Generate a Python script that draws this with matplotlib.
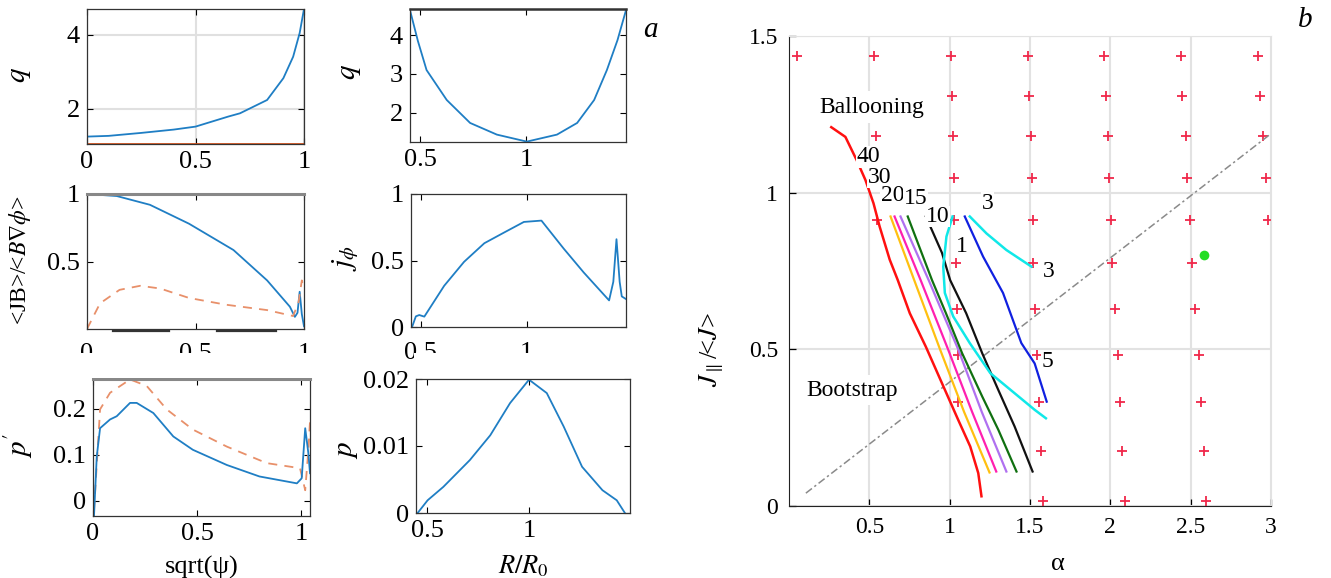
import matplotlib
matplotlib.use("Agg")
import matplotlib.pyplot as plt
from matplotlib.patches import Rectangle

plt.rcParams['font.family'] = 'serif'
plt.rcParams['font.serif'] = ['Liberation Serif', 'DejaVu Serif']
plt.rcParams['mathtext.fontset'] = 'stix'

W, H = 1331, 578
blue = '#1F7EC4'
orange = '#E8906A'

# q vs sqrt(psi)
s_q = [0, 0.1, 0.25, 0.4, 0.5, 0.65, 0.705, 0.83, 0.905, 0.95, 0.98, 1.0]
q_s = [1.25, 1.27, 1.35, 1.44, 1.52, 1.79, 1.88, 2.24, 2.83, 3.41, 4.05, 4.7]

# q vs R/R0
R_q = [0.453, 0.49, 0.531, 0.626, 0.736, 0.862, 1.003, 1.145, 1.24, 1.32, 1.38, 1.43, 1.47]
q_R = [4.64, 3.85, 3.10, 2.33, 1.74, 1.44, 1.26, 1.44, 1.74, 2.33, 3.10, 3.87, 4.64]

# <JB>/<B grad phi>, total (blue) and bootstrap (dashed)
s_jb = [0, 0.137, 0.29, 0.47, 0.675, 0.83, 0.935, 0.958, 0.97, 0.98, 0.99, 1.0]
jb = [1.0, 0.985, 0.92, 0.78, 0.585, 0.36, 0.165, 0.09, 0.12, 0.276, 0.11, 0.02]
s_bs = [0, 0.06, 0.15, 0.245, 0.337, 0.47, 0.64, 0.83, 0.95, 0.975, 0.99, 1.0]
bs = [0, 0.19, 0.29, 0.32, 0.30, 0.23, 0.18, 0.14, 0.096, 0.2, 0.36, 0.30]

# j_phi vs R/R0
R_j = [0.458, 0.476, 0.492, 0.516, 0.61, 0.704, 0.8, 0.893, 0.987, 1.07, 1.175,
       1.27, 1.39, 1.41, 1.425, 1.44, 1.45, 1.47]
j_R = [0, 0.08, 0.09, 0.078, 0.31, 0.49, 0.63, 0.71, 0.79, 0.80, 0.59,
       0.41, 0.2, 0.34, 0.66, 0.34, 0.23, 0.21]

# p' vs sqrt(psi)
s_dp = [0.005, 0.018, 0.034, 0.082, 0.114, 0.178, 0.21, 0.29, 0.386, 0.48, 0.643,
        0.80, 0.98, 1.003, 1.02, 1.035, 1.043]
dp = [-0.031, 0.096, 0.158, 0.177, 0.184, 0.213, 0.213, 0.191, 0.14, 0.111, 0.078,
      0.053, 0.038, 0.049, 0.158, 0.104, 0.06]
s_dp2 = [0.005, 0.034, 0.082, 0.178, 0.258, 0.354, 0.48, 0.643, 0.835, 0.995, 1.02, 1.035, 1.043]
dp2 = [-0.02, 0.199, 0.235, 0.264, 0.25, 0.199, 0.155, 0.118, 0.082, 0.071, 0.023, 0.11, 0.173]

# p vs R/R0
R_p = [0.454, 0.503, 0.58, 0.71, 0.81, 0.907, 1.0, 1.087, 1.17, 1.26, 1.36, 1.43, 1.47]
p_R = [0, 0.0019, 0.0039, 0.0079, 0.0116, 0.0164, 0.0199, 0.0179, 0.0129, 0.0069, 0.0034, 0.0019, 0]

# panel b: stability diagram
cross_a = [0.05, 0.531, 1.01, 1.486, 1.962, 2.44, 2.92,
           0.53, 1.015, 1.496, 1.972, 2.449, 2.93,
           0.539, 1.02, 1.504, 1.985, 2.469, 2.95,
           1.028, 1.511, 1.992, 2.48, 2.97,
           0.546, 1.028, 1.516, 2.005, 2.494, 2.98,
           1.04, 1.516, 2.01, 2.51,
           1.045, 1.529, 2.03, 2.53,
           1.05, 1.541, 2.05, 2.549,
           1.053, 1.554, 2.063, 2.564,
           1.566, 2.075, 2.58,
           1.579, 2.09, 2.594]
cross_j = [1.437] * 7 + [1.31] * 6 + [1.18] * 6 + [1.048] * 5 + [0.913] * 6 + \
          [0.776] * 4 + [0.628] * 4 + [0.482] * 4 + [0.331] * 4 + [0.174] * 3 + [0.017] * 3
green_pt = (2.586, 0.802)
boot_a = [0.105, 2.987]
boot_j = [0.041, 1.183]

red_a = [0.263, 0.351, 0.421, 0.476, 0.526, 0.564, 0.627, 0.677, 0.752, 0.852, 0.952, 1.053, 1.128, 1.178, 1.198]
red_j = [1.209, 1.178, 1.104, 1.04, 0.966, 0.892, 0.786, 0.721, 0.615, 0.508, 0.392, 0.275, 0.19, 0.105, 0.031]
yel_a = [0.632, 0.78, 0.94, 1.09, 1.248]
yel_j = [0.924, 0.72, 0.5, 0.3, 0.107]
mag_a = [0.657, 0.82, 0.99, 1.14, 1.29]
mag_j = [0.924, 0.72, 0.5, 0.3, 0.11]
vio_a = [0.694, 0.87, 1.053, 1.2, 1.353]
vio_j = [0.924, 0.72, 0.5, 0.3, 0.11]
grn_a = [0.739, 0.89, 0.977, 1.078, 1.203, 1.303, 1.416]
grn_j = [0.924, 0.721, 0.615, 0.487, 0.349, 0.243, 0.11]
blk_a = [0.852, 0.952, 1.003, 1.103, 1.203, 1.303, 1.404, 1.516]
blk_j = [0.924, 0.808, 0.721, 0.615, 0.487, 0.37, 0.254, 0.11]
cy1_a = [1.018, 0.98, 0.96, 0.97, 1.022, 1.125, 1.253, 1.404, 1.529, 1.599]
cy1_j = [0.924, 0.86, 0.764, 0.68, 0.605, 0.52, 0.424, 0.36, 0.307, 0.28]
blu_a = [1.094, 1.208, 1.332, 1.446, 1.529, 1.604]
blu_j = [0.924, 0.796, 0.68, 0.52, 0.455, 0.333]
cy3_a = [1.125, 1.229, 1.353, 1.509]
cy3_j = [0.924, 0.87, 0.817, 0.764]

curve_labels = ['40', '30', '20', '15', '10', '1', '3', '3', '5']
label_a = [0.42, 0.49, 0.57, 0.715, 0.85, 1.04, 1.2, 1.58, 1.57]
label_j = [1.114, 1.049, 0.99, 0.98, 0.924, 0.828, 0.966, 0.748, 0.461]

fig = plt.figure(figsize=(W / 100, H / 100), dpi=100)


def add_ax(l, t, r, b):
    return fig.add_axes([l / W, 1 - b / H, (r - l) / W, (b - t) / H])


def matlab(ax, size=19):
    ax.tick_params(direction='in', top=True, right=True, length=4, width=0.8,
                   labelsize=size, pad=5)
    for sp in ax.spines.values():
        sp.set_color('#333333')
        sp.set_linewidth(0.9)


ax1 = add_ax(87, 9, 304, 144)
ax1.plot(s_q, q_s, color=blue, lw=1.3)
ax1.axhline(1.05, color='#D95319', lw=2)
ax1.set_xlim(0, 1)
ax1.set_ylim(1.05, 4.7)
ax1.set_xticks([0, 0.5, 1])
ax1.set_xticklabels(['0', '0.5', '1'])
ax1.set_yticks([2, 4])
ax1.grid(True, color='#E0E0E0', lw=1.5)
matlab(ax1)

ax2 = add_ax(410, 9, 626, 142)
ax2.plot(R_q, q_R, color=blue, lw=1.3)
ax2.set_xlim(0.453, 1.47)
ax2.set_ylim(1.25, 4.67)
ax2.set_xticks([0.5, 1])
ax2.set_xticklabels(['0.5', '1'])
ax2.set_yticks([2, 3, 4])
matlab(ax2)
ax2.spines['top'].set_linewidth(1.8)

ax3 = add_ax(87, 194, 304, 329)
ax3.plot(s_jb, jb, color=blue, lw=1.3)
ax3.plot(s_bs, bs, color=orange, lw=1.3, ls=(0, (5, 4)))
ax3.set_xlim(0, 1)
ax3.set_ylim(0, 1)
ax3.set_xticks([0, 0.5, 1])
ax3.set_xticklabels(['0', '0.5', '1'])
ax3.set_yticks([0.5, 1])
ax3.set_yticklabels(['0.5', '1'])
matlab(ax3)
ax3.tick_params(axis='x', pad=10)
ax3.spines['top'].set_color('#888888')
ax3.spines['top'].set_linewidth(2.2)
for x0, x1 in [(0.12, 0.38), (0.60, 0.87)]:
    ax3.plot([x0, x1], [-0.012, -0.012], color='#333333', lw=1.6, clip_on=False)

ax4 = add_ax(411, 194, 626, 327)
ax4.plot(R_j, j_R, color=blue, lw=1.3)
ax4.set_xlim(0.453, 1.47)
ax4.set_ylim(0, 1)
ax4.set_xticks([0.5, 1])
ax4.set_xticklabels(['0.5', '1'])
ax4.set_yticks([0, 0.5, 1])
ax4.set_yticklabels(['0', '0.5', '1'])
matlab(ax4)
ax4.tick_params(axis='x', pad=11)

# white bands hiding the lower half of the middle-row x tick labels
for bx0, bx1 in [(0, 340), (414, 680)]:
    fig.patches.append(Rectangle((bx0 / W, 1 - 378 / H), (bx1 - bx0) / W, 25 / H,
                                 transform=fig.transFigure, facecolor='white',
                                 edgecolor='none', zorder=5))

ax5 = add_ax(93, 379, 310, 516)
ax5.plot(s_dp2, dp2, color=orange, lw=1.3, ls=(0, (5, 4)))
ax5.plot(s_dp, dp, color=blue, lw=1.3)
ax5.set_xlim(0, 1.043)
ax5.set_ylim(-0.033, 0.265)
ax5.set_xticks([0, 0.5, 1])
ax5.set_xticklabels(['0', '0.5', '1'])
ax5.set_yticks([0, 0.1, 0.2])
ax5.set_yticklabels(['0', '0.1', '0.2'])
ax5.set_xlabel('sqrt(ψ)', fontsize=19, labelpad=8)
matlab(ax5)
ax5.spines['top'].set_color('#888888')
ax5.spines['top'].set_linewidth(2.2)

ax6 = add_ax(416, 379, 630, 513)
ax6.plot(R_p, p_R, color=blue, lw=1.3)
ax6.set_xlim(0.446, 1.495)
ax6.set_ylim(0, 0.02)
ax6.set_xticks([0.5, 1])
ax6.set_xticklabels(['0.5', '1'])
ax6.set_yticks([0, 0.01, 0.02])
ax6.set_yticklabels(['0', '0.01', '0.02'])
ax6.set_xlabel('$R/R_0$', fontsize=19, labelpad=8)
matlab(ax6)

fig.text(20 / W, 1 - 75 / H, '$q$', fontsize=21, rotation=90, ha='center', va='center')
fig.text(350 / W, 1 - 72 / H, '$q$', fontsize=21, rotation=90, ha='center', va='center')
fig.text(20 / W, 1 - 260 / H, r'<JB>/<$B\nabla\phi$>', fontsize=17, rotation=90,
         ha='center', va='center')
fig.text(346 / W, 1 - 258 / H, r'$j_{\phi}$', fontsize=21, rotation=90, ha='center', va='center')
fig.text(18 / W, 1 - 445 / H, r"$p^{\prime}$", fontsize=21, rotation=90, ha='center', va='center')
fig.text(347 / W, 1 - 450 / H, '$p$', fontsize=21, rotation=90, ha='center', va='center')
fig.text(650 / W, 1 - 30 / H, 'a', fontsize=21, style='italic', ha='center', va='center')
fig.text(1305 / W, 1 - 20 / H, 'b', fontsize=21, style='italic', ha='center', va='center')

# panel b
axb = add_ax(789, 36, 1271, 506)
axb.grid(True, color='#E2E2E2', lw=1.5)
axb.set_axisbelow(True)
axb.plot(cross_a, cross_j, '+', color='#F0284A', ms=7, mew=1.3, zorder=2)
axb.plot(boot_a, boot_j, color='#8A8A8A', lw=1.1, ls=(0, (5, 2, 1.5, 2)), zorder=2)
axb.plot(*green_pt, 'o', color='#22DD22', ms=7, mec='none', zorder=3)
axb.plot(red_a, red_j, color='#FF1010', lw=1.8, zorder=3)
axb.plot(yel_a, yel_j, color='#FFC010', lw=1.6, zorder=3)
axb.plot(mag_a, mag_j, color='#FF20B0', lw=1.6, zorder=3)
axb.plot(vio_a, vio_j, color='#B070F0', lw=1.6, zorder=3)
axb.plot(grn_a, grn_j, color='#107010', lw=1.6, zorder=3)
axb.plot(blk_a, blk_j, color='#111111', lw=1.6, zorder=3)
axb.plot(cy1_a, cy1_j, color='#10E8E8', lw=1.8, zorder=3)
axb.plot(blu_a, blu_j, color='#1020E0', lw=1.6, zorder=3)
axb.plot(cy3_a, cy3_j, color='#10E8E8', lw=1.8, zorder=3)
for t, xa, yj in zip(curve_labels, label_a, label_j):
    axb.text(xa, yj, t, fontsize=17, ha='left', va='center', zorder=4,
             bbox=dict(facecolor='white', edgecolor='none', pad=0.3))
axb.text(0.19, 1.273, 'Ballooning', fontsize=17, ha='left', va='center', zorder=4,
         bbox=dict(facecolor='white', edgecolor='none', pad=4))
axb.text(0.11, 0.37, 'Bootstrap', fontsize=17, ha='left', va='center', zorder=4,
         bbox=dict(facecolor='white', edgecolor='none', pad=3))
axb.set_xlim(0, 3)
axb.set_ylim(0, 1.5)
axb.set_xticks([0.5, 1, 1.5, 2, 2.5, 3])
axb.set_xticklabels(['0.5', '1', '1.5', '2', '2.5', '3'])
axb.set_yticks([0, 0.5, 1, 1.5])
axb.set_yticklabels(['0', '0.5', '1', '1.5'])
axb.tick_params(direction='in', length=5, width=0.9, labelsize=17, pad=8)
axb.spines['left'].set_color('#222222')
axb.spines['bottom'].set_color('#222222')
axb.spines['top'].set_color('#E2E2E2')
axb.spines['right'].set_color('#E2E2E2')
fig.text(1058 / W, 1 - 564 / H, 'α', fontsize=19, ha='center', va='center')
fig.text(712 / W, 1 - 350 / H, r'$J_{\parallel}$/<$J$>', fontsize=19, rotation=90,
         ha='center', va='center')

fig.savefig('out.png', dpi=100)
